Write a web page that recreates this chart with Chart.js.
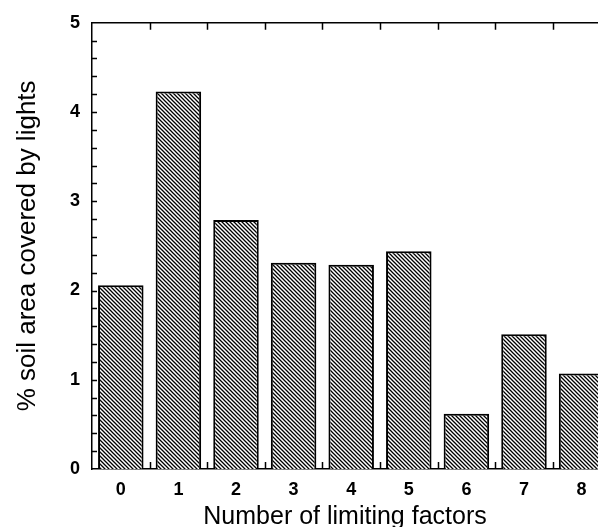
<!DOCTYPE html>
<html>
<head>
<meta charset="utf-8">
<script src="https://cdn.jsdelivr.net/npm/chart.js@4.4.1/dist/chart.umd.min.js"></script>
<style>
  html, body { margin: 0; padding: 0; background: #fff; overflow: hidden; }
  #wrap { width: 598px; height: 527px; position: relative; }
</style>
</head>
<body>
<div id="wrap"><canvas id="limitChart"></canvas></div>
<script>
// --- data ---
const categories = [0, 1, 2, 3, 4, 5, 6, 7, 8];
const coverValues = [2.06, 4.23, 2.79, 2.31, 2.29, 2.44, 0.62, 1.51, 1.07];
const yTicks = [0, 1, 2, 3, 4, 5];
const yMinorStep = 0.2;
const xTitle = 'Number of limiting factors';
const yTitle = '% soil area covered by lights';

// diagonal hatch pattern (\\\)
function makeHatch() {
    const p = document.createElement('canvas');
    p.width = 4; p.height = 4;
    const c = p.getContext('2d');
    c.fillStyle = '#fff';
    c.fillRect(0, 0, 4, 4);
    c.strokeStyle = '#000';
    c.lineWidth = 1.3;
    c.beginPath();
    c.moveTo(-1, -1); c.lineTo(5, 5);
    c.moveTo(3, -1); c.lineTo(5, 1);
    c.moveTo(-1, 3); c.lineTo(1, 5);
    c.stroke();
    return c.createPattern(p, 'repeat');
}

// inward ticks + top frame line
const frameTicks = {
    id: 'frameTicks',
    afterDraw(chart) {
        const { ctx, chartArea: a, scales: { x, y } } = chart;
        ctx.save();
        ctx.strokeStyle = '#000';
        ctx.lineWidth = 1.5;
        ctx.beginPath();
        // top line
        ctx.moveTo(a.left, a.top);
        ctx.lineTo(a.right, a.top);
        // left ticks every 0.2
        for (let v = yMinorStep; v < yTicks[yTicks.length - 1] - 1e-6; v += yMinorStep) {
            const py = Math.round(y.getPixelForValue(v)) + 0.5;
            ctx.moveTo(a.left, py);
            ctx.lineTo(a.left + 5, py);
        }
        // category boundary ticks, top and bottom
        categories.forEach(c => {
            const px = Math.round(x.getPixelForValue(c + 0.5)) + 0.5;
            if (px > a.right) return;
            ctx.moveTo(px, a.bottom);
            ctx.lineTo(px, a.bottom - 7);
            ctx.moveTo(px, a.top);
            ctx.lineTo(px, a.top + 7);
        });
        ctx.stroke();
        ctx.restore();
    }
};

const ctx = document.getElementById('limitChart');
const tickFont = { family: '"Liberation Sans Narrow", "Arial Narrow", "Liberation Sans", sans-serif', size: 18, weight: 'bold' };
const titleFamily = '"Liberation Sans", Arial, sans-serif';

new Chart(ctx, {
    type: 'bar',
    data: {
        datasets: [{
            data: categories.map((c, i) => ({ x: c, y: coverValues[i] })),
            backgroundColor: makeHatch(),
            borderColor: '#000',
            borderWidth: 2,
            borderSkipped: 'bottom',
            categoryPercentage: 1,
            barPercentage: 0.79
        }]
    },
    options: {
        responsive: true,
        maintainAspectRatio: false,
        animation: false,
        layout: { padding: { top: 21, right: 0, left: 0, bottom: 0 } },
        plugins: { legend: { display: false }, tooltip: { enabled: false } },
        scales: {
            x: {
                type: 'linear',
                offset: false,
                min: -0.5,
                max: 8.285,
                afterBuildTicks: s => { s.ticks = categories.map(v => ({ value: v })); },
                afterFit: s => { s.height = 58; },
                grid: { display: false, drawTicks: false },
                border: { display: true, color: '#000', width: 1.5 },
                ticks: { color: '#000', font: tickFont, padding: 10, maxRotation: 0, autoSkip: false },
                title: { display: true, text: xTitle, color: '#000', font: { family: titleFamily, size: 25 }, padding: { top: 0, bottom: -5 } }
            },
            y: {
                min: 0,
                max: 5,
                afterBuildTicks: s => { s.ticks = yTicks.map(v => ({ value: v })); },
                afterFit: s => { s.width = 92; },
                grid: { display: false, drawTicks: false },
                border: { display: true, color: '#000', width: 1.5 },
                ticks: { color: '#000', font: tickFont, padding: 12 },
                title: { display: true, text: yTitle, color: '#000', font: { family: titleFamily, size: 26 }, padding: { top: 12, bottom: 0 } }
            }
        }
    },
    plugins: [frameTicks]
});
</script>
</body>
</html>
